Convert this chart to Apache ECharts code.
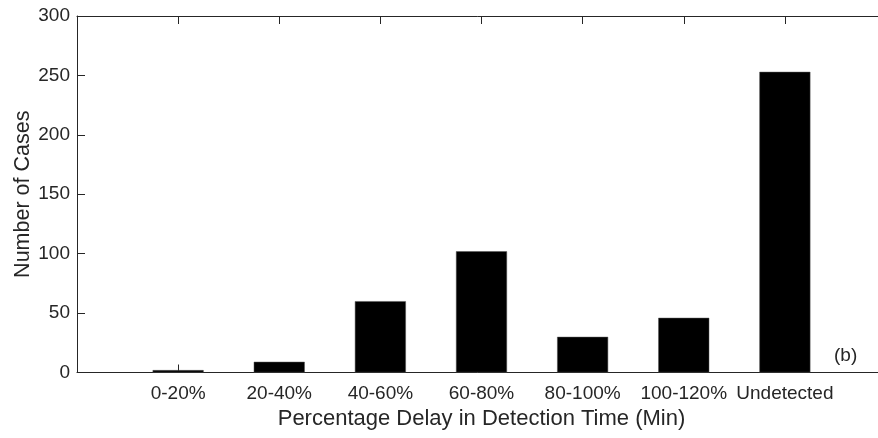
<!DOCTYPE html>
<html><head><meta charset="utf-8">
<script src="https://cdn.jsdelivr.net/npm/echarts@6/dist/echarts.min.js"></script>
<style>html,body{margin:0;padding:0;background:#fff}#c{width:878px;height:438px}</style>
</head><body><div id="c"></div>
<script>
var categories = ['0-20%', '20-40%', '40-60%', '60-80%', '80-100%', '100-120%', 'Undetected'];
var counts = [2, 9, 60, 102, 30, 46, 253];
var yTicks = [0, 50, 100, 150, 200, 250, 300];

var ink = '#262626';
var font = 'Liberation Sans, Arial, Helvetica, sans-serif';
var chart = echarts.init(document.getElementById('c'));
var barData = counts.map(function (v, i) { return [i + 1, v]; });
function frameAxis(extra) {
  var base = {
    axisLine: { show: true, onZero: false, lineStyle: { color: ink, width: 1 } },
    axisTick: { show: true, inside: true, length: 8, lineStyle: { color: ink } },
    splitLine: { show: false }
  };
  for (var k in extra) base[k] = extra[k];
  return base;
}
chart.setOption({
  animation: false,
  grid: { left: 77, top: 16, bottom: 65.5, right: -8, containLabel: false, outerBoundsMode: 'none' },
  xAxis: [frameAxis({
    type: 'value', min: 0, max: categories.length + 1, interval: 1,
    position: 'bottom',
    name: 'Percentage Delay in Detection Time (Min)', nameLocation: 'middle', nameGap: 35,
    nameTextStyle: { color: ink, fontSize: 22, fontFamily: font },
    axisLabel: { color: ink, fontSize: 19, fontFamily: font, margin: 12,
      formatter: function (v) { return (v >= 1 && v <= categories.length) ? categories[v - 1] : ''; } }
  }), frameAxis({
    type: 'value', min: 0, max: categories.length + 1, interval: 1,
    position: 'top',
    axisLabel: { show: false }
  })],
  yAxis: [frameAxis({
    type: 'value', min: 0, max: 300, interval: 50,
    position: 'left',
    name: 'Number of Cases', nameLocation: 'middle', nameGap: 43, nameMoveOverlap: false,
    nameTextStyle: { color: ink, fontSize: 21.5, fontFamily: font },
    axisLabel: { color: ink, fontSize: 19, fontFamily: font, margin: 7,
      formatter: function (v) { return yTicks.indexOf(v) >= 0 ? String(v) : ''; } }
  }), frameAxis({
    type: 'value', min: 0, max: 300, interval: 50, position: 'right',
    axisLabel: { show: false }
  })],
  series: [{
    type: 'bar', xAxisIndex: 0, yAxisIndex: 0, data: barData, barWidth: 51,
    itemStyle: { color: '#000', borderColor: '#555', borderWidth: 0.5 }
  }],
  graphic: [{
    type: 'text', left: 834, top: 346,
    style: { text: '(b)', fill: ink, fontSize: 19, fontFamily: font }
  }]
});
</script>
</body></html>
